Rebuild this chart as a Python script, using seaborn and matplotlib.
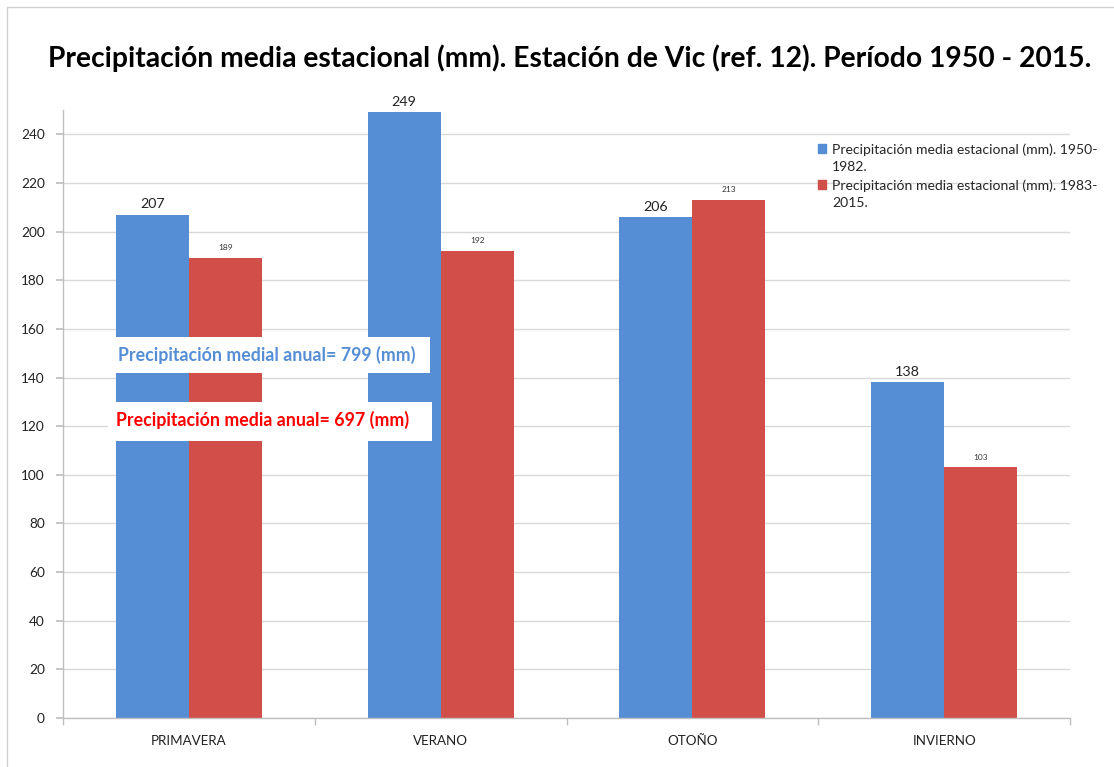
import matplotlib
matplotlib.use("Agg")
import matplotlib.pyplot as plt
from matplotlib.patches import Rectangle
from matplotlib.lines import Line2D
import pandas as pd
import seaborn as sns

seasons = ["PRIMAVERA", "VERANO", "OTOÑO", "INVIERNO"]
series_names = [
    "Precipitación media estacional (mm). 1950-1982.",
    "Precipitación media estacional (mm). 1983-2015.",
]
legend_lines = [
    ["Precipitación media estacional (mm). 1950-", "1982."],
    ["Precipitación media estacional (mm). 1983-", "2015."],
]
values_1950_1982 = [207, 249, 206, 138]
values_1983_2015 = [189, 192, 213, 103]
y_ticks = list(range(0, 241, 20))
title = "Precipitación media estacional (mm). Estación de Vic (ref. 12). Período 1950 - 2015."
note_1 = "Precipitación medial anual= 799 (mm)"
note_2 = "Precipitación media anual= 697 (mm)"

BLUE = "#558ED5"
RED = "#D14E49"
GRID = "#D9D9D9"
FONT = "Lato"

sns.set_theme(style="white")
plt.rcParams["font.family"] = [FONT, "DejaVu Sans"]

df = pd.DataFrame({
    "season": seasons * 2,
    "serie": [series_names[0]] * 4 + [series_names[1]] * 4,
    "value": values_1950_1982 + values_1983_2015,
})

fig = plt.figure(figsize=(11.14, 7.67), dpi=100)
ax = fig.add_axes([0.0566, 0.0639, 0.9039, 0.7927])

sns.barplot(data=df, x="season", y="value", hue="serie", order=seasons,
            hue_order=series_names, palette=[BLUE, RED], width=0.58, gap=0,
            saturation=1, errorbar=None, ax=ax, zorder=2, legend=False,
            linewidth=0)

ax.set_ylim(0, 250)
ax.set_xlim(-0.5, len(seasons) - 0.5)
ax.set_yticks(y_ticks)
ax.set_yticklabels([str(t) for t in y_ticks], fontsize=9.8, color="#222222")
ax.set_xlabel("")
ax.set_ylabel("")
ax.yaxis.grid(True, color=GRID, linewidth=1, zorder=0)
ax.set_axisbelow(True)
ax.tick_params(axis="y", length=5, color="#BFBFBF", pad=8, left=True)
ax.tick_params(axis="x", length=0, pad=12, labelsize=9.6, labelcolor="#222222")
ax.set_xticks(range(len(seasons)))
ax.set_xticklabels(seasons)
ax.set_xticks([i + 0.5 for i in range(-1, len(seasons))], minor=True)
ax.tick_params(axis="x", which="minor", length=5, color="#BFBFBF", bottom=True)
for side in ["top", "right"]:
    ax.spines[side].set_visible(False)
for side in ["left", "bottom"]:
    ax.spines[side].set_color("#BFBFBF")
    ax.spines[side].set_linewidth(1)

# value labels
blue_bars, red_bars = ax.containers[0], ax.containers[1]
ax.bar_label(blue_bars, labels=[str(v) for v in values_1950_1982], padding=3,
             fontsize=10.3, color="#222222")
ax.bar_label(red_bars, labels=[str(v) for v in values_1983_2015], padding=5,
             fontsize=6, color="#333333")

# legend: square marker beside the first line of each wrapped entry
handles, labels = [], []
for color, lines in zip([BLUE, RED], legend_lines):
    handles.append(Rectangle((0, 0), 1, 1, color=color))
    labels.append(lines[0])
    handles.append(Rectangle((0, 0), 1, 1, color="none"))
    labels.append(lines[1])
leg = ax.legend(handles, labels, loc="upper left", bbox_to_anchor=(0.744, 0.955),
                frameon=False, fontsize=10.1, handlelength=0.6, handleheight=0.6,
                handletextpad=0.4, labelspacing=0.41, borderaxespad=0)

# annual total boxes
W, H = 1114, 767
def box(x0, y0, x1, y1):
    fig.patches.append(Rectangle((x0 / W, 1 - y1 / H), (x1 - x0) / W, (y1 - y0) / H,
                                 transform=fig.transFigure, facecolor="white",
                                 edgecolor="none", zorder=5))
box(108, 337, 430, 373)
box(108, 402, 432, 441)
fig.text(118 / W, 1 - 355 / H, note_1, color=BLUE, fontsize=12.8, fontweight="bold",
         va="center", ha="left", zorder=6)
fig.text(116 / W, 1 - 420 / H, note_2, color="#FF0000", fontsize=12.8, fontweight="bold",
         va="center", ha="left", zorder=6)

# title
fig.text(570 / W, 1 - 58 / H, title, fontsize=20.3, fontweight="bold", color="black",
         ha="center", va="center")

# outer frame
fig.lines.append(Line2D([7 / W, 7 / W, 1.0], [0.0, 1 - 7 / H, 1 - 7 / H],
                        transform=fig.transFigure, color="#D0D0D0", linewidth=1))

fig.savefig("out.png", dpi=100, facecolor="white")
